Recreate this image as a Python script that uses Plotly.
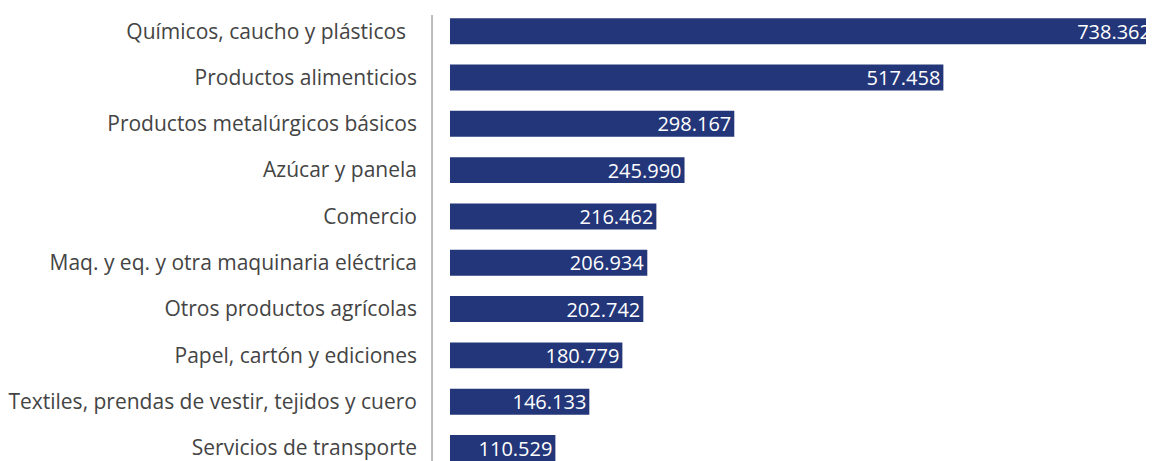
import plotly.graph_objects as go

categories = [
    "Químicos, caucho y plásticos\u00a0\u00a0",
    "Productos alimenticios",
    "Productos metalúrgicos básicos",
    "Azúcar y panela",
    "Comercio",
    "Maq. y eq. y otra maquinaria eléctrica",
    "Otros productos agrícolas",
    "Papel, cartón y ediciones",
    "Textiles, prendas de vestir, tejidos y cuero",
    "Servicios de transporte",
]
values = [738362, 517458, 298167, 245990, 216462, 206934, 202742, 180779, 146133, 110529]

BAR_COLOR = "#233679"
FONT = "Open Sans"

# page body has an 8px margin; compensate so the plot lands where the reference has it
PLOT_W = 706
PLOT_H = 453

fig = go.Figure(
    go.Bar(
        x=values,
        y=categories,
        orientation="h",
        marker=dict(color=BAR_COLOR, line=dict(width=0)),
        width=0.56,
        texttemplate="%{x:,.0f}",
        textposition="inside",
        insidetextanchor="end",
        textangle=0,
        textfont=dict(family=FONT, size=20, color="white"),
        cliponaxis=True,
    )
)

fig.update_layout(
    width=1154,
    height=461,
    margin=dict(l=440, r=8, t=0, b=8),
    plot_bgcolor="white",
    paper_bgcolor="white",
    separators=",.",
    showlegend=False,
    font=dict(family=FONT),
    uniformtext=dict(minsize=20, mode="show"),
)
fig.update_xaxes(
    range=[0, 738362],
    visible=False,
    showgrid=False,
    zeroline=False,
    fixedrange=True,
)
fig.update_yaxes(
    autorange=False,
    range=[9.28, -0.5],
    categoryorder="array",
    categoryarray=categories,
    showgrid=False,
    zeroline=False,
    showline=False,
    ticks="",
    ticklabelstandoff=32,
    tickfont=dict(family=FONT, size=21, color="#444444"),
)

# vertical separator line left of the bars
fig.add_shape(
    type="line",
    xref="paper",
    yref="paper",
    x0=-18 / PLOT_W,
    x1=-18 / PLOT_W,
    y0=-0.05,
    y1=1 - 7 / PLOT_H,
    line=dict(color="#bbbbbb", width=2),
)

fig.write_html("out.html")
